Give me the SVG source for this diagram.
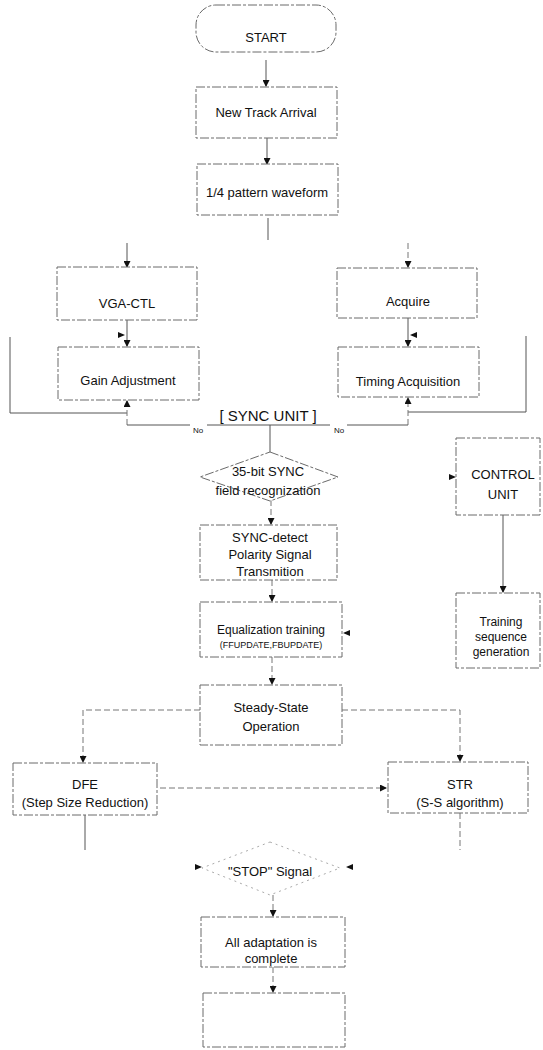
<svg xmlns="http://www.w3.org/2000/svg" width="543" height="1050" viewBox="0 0 543 1050">
<style>
.box{fill:#fff;stroke:#6a6a6a;stroke-width:1;stroke-dasharray:9 2 3 2}
.ln{fill:none;stroke:#555;stroke-width:1}
.dl{fill:none;stroke:#777;stroke-width:1;stroke-dasharray:6 3}
text{font-family:"Liberation Sans",Arial,sans-serif;font-size:13px;fill:#111;text-anchor:middle}
.s12{font-size:12px}
.sm{font-size:9px}
.big{font-size:15px}
.no{font-size:8px}
</style>
<defs>
<marker id="arr" markerWidth="7" markerHeight="7" refX="6" refY="3.5" orient="auto" markerUnits="userSpaceOnUse">
<path d="M0,0 L7,3.5 L0,7 Z" fill="#111"/>
</marker>
</defs>
<g id="connectors">
<path class="ln" d="M266,60 V86" marker-end="url(#arr)"/>
<path class="ln" d="M267,138 V164" marker-end="url(#arr)"/>
<path class="ln" d="M268,218 V240"/>
<path class="ln" d="M127,243 V267" marker-end="url(#arr)"/>
<path class="dl" d="M408,243 V267" marker-end="url(#arr)"/>
<path class="ln" d="M127,320 V346" marker-end="url(#arr)"/>
<path class="ln" d="M408,318 V346" marker-end="url(#arr)"/>
<path class="ln" d="M10,337 V413 H127"/>
<path class="dl" d="M127,425 V401" marker-end="url(#arr)"/>
<path class="ln" d="M526,336 V412 H408"/>
<path class="dl" d="M408,425 V398" marker-end="url(#arr)"/>
<path class="ln" d="M127,425 H190 M207,425 H330 M347,425 H408"/>
<path class="ln" d="M270,425 V452"/>
<path class="dl" d="M271,500 V524" marker-end="url(#arr)"/>
<path class="dl" d="M272,580 V601" marker-end="url(#arr)"/>
<path class="dl" d="M272,657 V684" marker-end="url(#arr)"/>
<path class="dl" d="M200,710 H83 V762" marker-end="url(#arr)"/>
<path class="dl" d="M342,710 H460 V761" marker-end="url(#arr)"/>
<path class="dl" d="M160,788 H386" marker-end="url(#arr)"/>
<path class="ln" d="M85,815 V850"/>
<path class="dl" d="M460,813 V850"/>
<path class="dl" d="M273,895 V916" marker-end="url(#arr)"/>
<path class="dl" d="M273,967 V992" marker-end="url(#arr)"/>
<path class="ln" d="M503,515 V592" marker-end="url(#arr)"/>
<path d="M118,332 L125,335 L118,338 Z" fill="#111"/>
<path d="M417,332 L410,335 L417,338 Z" fill="#111"/>
<path d="M350,630 L343,633 L350,636 Z" fill="#111"/>
<path d="M449,474 L456,477 L449,480 Z" fill="#111"/>
<path d="M195,864 L202,867 L195,870 Z" fill="#111"/>
<path d="M353,864 L346,867 L353,870 Z" fill="#111"/>
</g>
<g id="start"><rect class="box" x="196" y="5" width="140" height="47" rx="20"/><text x="266" y="42">START</text></g>
<g id="new-track"><rect class="box" x="196" y="87" width="141" height="51"/><text x="266" y="117">New Track Arrival</text></g>
<g id="pattern"><rect class="box" x="197" y="164" width="141" height="51"/><text x="267" y="197">1/4 pattern waveform</text></g>
<g id="vga"><rect class="box" x="57" y="267" width="140" height="53"/><text x="127" y="308">VGA-CTL</text></g>
<g id="gain"><rect class="box" x="58" y="347" width="141" height="53"/><text x="128" y="385">Gain Adjustment</text></g>
<g id="acquire"><rect class="box" x="337" y="268" width="140" height="50"/><text x="408" y="306">Acquire</text></g>
<g id="timing"><rect class="box" x="338" y="347" width="141" height="50"/><text x="408" y="386">Timing Acquisition</text></g>
<g id="sync-unit"><text class="big" x="268" y="421">[ SYNC UNIT ]</text><text class="no" x="198" y="433">No</text><text class="no" x="339" y="433">No</text></g>
<g id="sync-field"><path class="box" d="M270,452 L338,477 L270,501 L200,477 Z"/><text x="268" y="476">35-bit SYNC</text><text x="268" y="495">field recognization</text></g>
<g id="sync-detect"><rect class="box" x="200" y="525" width="137" height="55"/><text x="270" y="542">SYNC-detect</text><text x="270" y="559">Polarity Signal</text><text x="270" y="576">Transmition</text></g>
<g id="equalization"><rect class="box" x="200" y="602" width="142" height="55"/><text class="s12" x="271" y="634">Equalization training</text><text class="sm" x="271" y="648">(FFUPDATE,FBUPDATE)</text></g>
<g id="steady"><rect class="box" x="200" y="685" width="142" height="60"/><text x="271" y="712">Steady-State</text><text x="271" y="731">Operation</text></g>
<g id="control"><rect class="box" x="456" y="438" width="84" height="77"/><text x="503" y="479">CONTROL</text><text x="503" y="499">UNIT</text></g>
<g id="training"><rect class="box" x="456" y="593" width="84" height="75"/><text class="s12" x="501" y="626">Training</text><text class="s12" x="501" y="641">sequence</text><text class="s12" x="501" y="656">generation</text></g>
<g id="dfe"><rect class="box" x="13" y="763" width="144" height="52"/><text x="85" y="789">DFE</text><text x="85" y="807">(Step Size Reduction)</text></g>
<g id="str"><rect class="box" x="388" y="762" width="140" height="51"/><text x="460" y="789">STR</text><text x="460" y="807">(S-S algorithm)</text></g>
<g id="stop"><path class="box" d="M270,842 L340,868 L270,895 L202,868 Z" style="stroke:#aaa;stroke-dasharray:2 4"/><text x="270" y="876">"STOP" Signal</text></g>
<g id="complete"><rect class="box" x="201" y="917" width="144" height="50"/><text x="271" y="947">All adaptation is</text><text x="271" y="963">complete</text></g>
<g id="empty"><rect class="box" x="203" y="993" width="142" height="54"/></g>
</svg>
